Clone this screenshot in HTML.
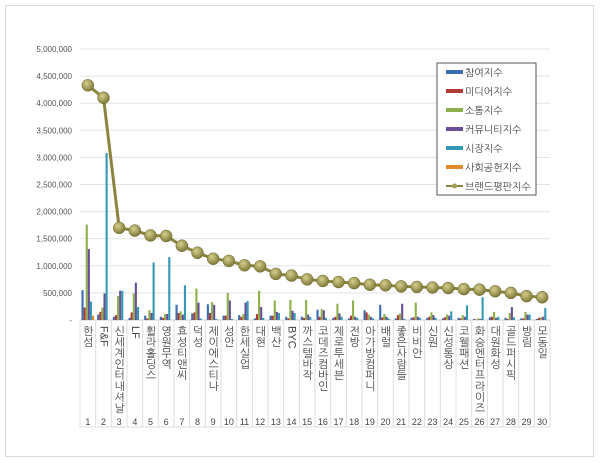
<!DOCTYPE html>
<html><head><meta charset="utf-8"><style>
body{margin:0;background:#fff;width:600px;height:463px;overflow:hidden;font-family:"Liberation Sans","Noto Sans CJK KR",sans-serif}
#frame{position:absolute;left:5px;top:5px;width:587px;height:450px;border:1px solid #d9d9d9}
.lbl{position:absolute;top:326px;writing-mode:vertical-rl;font-size:11px;color:#444;line-height:12px;font-family:"Liberation Sans","NanumGothic","Noto Sans CJK KR",sans-serif}
</style></head><body>
<div id="frame"></div>
<svg id="s" width="600" height="463" style="position:absolute;left:0;top:0"></svg>
<div id="labels"></div>
<script>
const X0=80,W=470/30,Y0=320,K=271/5000000;
const names=["한섬","F&F","신세계인터내셔날","LF","휠라홀딩스","영원무역","효성티앤씨","덕성","제이에스티나","성안","한세실업","대현","백산","BYC","까스텔바작","코데즈컴바인","제로투세븐","전방","아가방컴퍼니","배럴","좋은사람들","비비안","신원","신성통상","코웰패션","화승엔터프라이즈","대원화성","골드퍼시픽","방림","모동일"];
const brand=[4330000,4100000,1700000,1650000,1560000,1550000,1370000,1240000,1130000,1090000,1010000,990000,850000,820000,750000,720000,700000,680000,650000,640000,620000,610000,600000,590000,570000,560000,530000,500000,440000,420000];
const bars=[[550,230,1760,1310,340,80],[100,150,230,490,3080,0],[60,90,440,540,540,0],[40,140,490,690,240,0],[80,30,180,130,1060,0],[60,40,110,110,1160,0],[280,130,160,100,640,0],[120,140,580,320,30,0],[290,130,330,280,20,0],[80,80,500,360,20,0],[90,60,110,320,350,0],[30,110,540,240,40,0],[80,80,360,150,130,0],[60,30,370,170,130,0],
[60,40,370,100,60,0],[190,60,200,180,40,0],[40,60,300,120,60,0],[30,80,360,60,40,0],[180,140,100,60,30,0],[280,50,110,60,30,0],[30,90,120,300,20,0],[40,50,320,60,40,0],[40,60,140,90,40,0],[30,50,100,80,160,0],[40,30,90,60,270,0],[20,10,30,20,420,0],[50,60,150,40,60,0],[40,20,130,240,50,0],[30,30,150,100,100,0],[20,40,50,60,220,0]];
const cols=["#3c6cb0","#b13a37","#8db04a","#6a4e98","#3399b5","#e08a2b"];
let s='';
const f=v=>v.toLocaleString('en-US');
for(let i=0;i<=10;i++){const y=Y0-i*500000*K;
 if(i>0)s+=`<line x1="${X0}" x2="550" y1="${y}" y2="${y}" stroke="#e3e3e3"/>`;
 s+=`<text x="72" y="${y+3}" font-size="8" fill="#555" text-anchor="end">${i==0?'-':f(i*500000)}</text>`;}
s+=`<line x1="${X0}" x2="550" y1="${Y0}" y2="${Y0}" stroke="#ccc"/>`;
for(let c=0;c<=30;c++){const x=X0+c*W;s+=`<line x1="${x}" x2="${x}" y1="${Y0}" y2="427" stroke="#ddd"/>`;}
s+=`<line x1="${X0}" x2="550" y1="427" y2="427" stroke="#ddd"/>`;
bars.forEach((b,c)=>{b.forEach((v,j)=>{if(!v)return;const h=v*1000*K;const x=X0+c*W+1.5+j*2.1;
 s+=`<rect x="${x}" y="${Y0-h}" width="2.1" height="${h}" fill="${cols[j]}"/>`;});
 s+=`<text x="${X0+c*W+W/2}" y="425" font-size="9" fill="#444" text-anchor="middle">${c+1}</text>`;});
let pts=brand.map((v,c)=>`${X0+c*W+W/2},${Y0-v*K}`).join(' ');
s+=`<defs><radialGradient id="g" cx="40%" cy="35%" r="65%"><stop offset="0" stop-color="#d6cf8c"/><stop offset="1" stop-color="#7f7938"/></radialGradient></defs>`;
s+=`<polyline points="${pts}" fill="none" stroke="#8a8440" stroke-width="3"/>`;
brand.forEach((v,c)=>{s+=`<circle cx="${X0+c*W+W/2}" cy="${Y0-v*K}" r="6" fill="url(#g)" stroke="#6e6930" stroke-width="0.5"/>`;});
s+=`<rect x="437" y="63" width="99" height="132" fill="#fff" stroke="#555"/>`;
const ln=["참여지수","미디어지수","소통지수","커뮤니티지수","시장지수","사회공헌지수","브랜드평판지수"];
ln.forEach((t,i)=>{const y=72+i*19;
 if(i<6)s+=`<rect x="446" y="${y-2}" width="17" height="4" fill="${cols[i]}"/>`;
 else{s+=`<line x1="446" x2="463" y1="${y}" y2="${y}" stroke="#8a8440" stroke-width="2"/><circle cx="454.5" cy="${y}" r="2.5" fill="#a49e58"/>`;}
 s+=`<text x="465" y="${y+4}" font-size="10" fill="#444" font-family="Liberation Sans,NanumGothic,Noto Sans CJK KR,sans-serif">${t}</text>`;});
document.getElementById('s').innerHTML=s;
let h='';names.forEach((n,c)=>{h+=`<div class="lbl" style="left:${X0+c*W+W/2-6}px">${n}</div>`;});
document.getElementById('labels').innerHTML=h;
</script>
</body></html>
